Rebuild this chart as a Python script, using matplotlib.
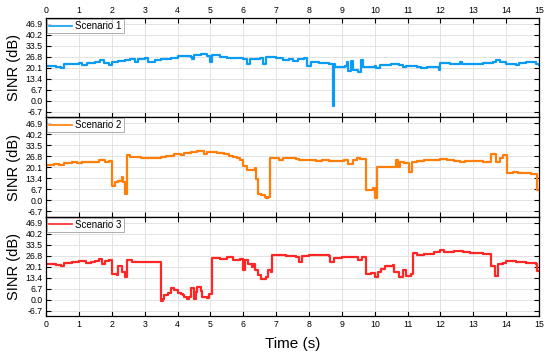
import numpy as np
import matplotlib
matplotlib.use('Agg')
import matplotlib.pyplot as plt

plt.rcParams['font.family'] = ['Liberation Sans', 'DejaVu Sans']

# ---------------------------------- data ----------------------------------
t1 = [0.0, 0.3, 0.45, 0.55, 0.8, 1.0, 1.1, 1.25, 1.5, 1.65, 1.75, 1.9, 2.0, 2.2, 2.4, 2.55, 2.7, 2.8,
      3.0, 3.1, 3.3, 3.5, 3.8, 4.0, 4.4, 4.45, 4.5, 4.7, 4.9, 5.0, 5.05, 5.3, 5.5, 5.8, 6.0, 6.1, 6.2,
      6.5, 6.6, 6.7, 7.0, 7.2, 7.4, 7.5, 7.65, 7.85, 7.95, 8.05, 8.3, 8.6, 8.72, 8.75, 8.8, 9.1, 9.15,
      9.2, 9.27, 9.35, 9.5, 9.58, 9.65, 10.0, 10.05, 10.15, 10.5, 10.75, 10.85, 10.95, 11.3, 11.4,
      11.6, 11.95, 12.0, 12.3, 12.6, 12.65, 13.0, 13.3, 13.6, 13.7, 13.8, 14.0, 14.3, 14.4, 14.6,
      14.9, 15.0]
v1 = [21.3, 21.0, 20.3, 22.3, 22.7, 23.0, 22.2, 23.3, 23.8, 24.8, 23.2, 22.2, 23.8, 24.4, 25.0, 25.6, 24.0, 25.8,
      26.0, 24.0, 25.0, 25.8, 26.4, 27.4, 27.0, 25.4, 28.0, 28.4, 27.6, 23.8, 28.0, 27.0, 26.4, 26.0, 25.8, 22.8, 25.6,
      26.0, 22.6, 26.6, 26.0, 25.2, 25.6, 24.6, 25.6, 26.4, 21.6, 23.6, 23.2, 22.8, -2.8, 22.6, 20.8, 21.4, 23.6,
      18.0, 24.4, 18.6, 17.4, 24.8, 20.4, 21.4, 20.0, 22.0, 22.4, 22.0, 20.8, 21.4, 20.6, 20.2,
      20.8, 19.0, 23.0, 22.6, 23.6, 22.4, 22.8, 23.4, 24.0, 24.8, 23.6, 22.6, 22.2, 23.0, 23.6,
      22.8, 22.0]

t2 = [0.0, 0.25, 0.4, 0.55, 0.8, 0.95, 1.1, 1.4, 1.6, 1.8, 1.9, 2.0, 2.1, 2.2, 2.3, 2.35, 2.4, 2.45,
      2.55, 2.9, 3.2, 3.5, 3.65, 3.9, 4.1, 4.2, 4.4, 4.6, 4.8, 4.9, 5.2, 5.4, 5.55, 5.7, 5.8, 5.9, 6.0,
      6.1, 6.3, 6.35, 6.4, 6.45, 6.55, 6.65, 6.7, 6.75, 6.8, 7.1, 7.2, 7.6, 7.7, 8.0, 8.2, 8.4, 8.6,
      8.9, 9.05, 9.2, 9.35, 9.45, 9.55, 9.72, 9.85, 9.95, 10.0, 10.08, 10.3, 10.6, 10.65, 10.72, 10.78,
      10.9, 11.05, 11.12, 11.3, 11.5, 11.7, 12.0, 12.2, 12.4, 12.6, 12.75, 13.0, 13.3, 13.5, 13.55,
      13.68, 13.8, 13.9, 14.02, 14.2, 14.35, 14.6, 14.75, 14.95, 15.0]
v2 = [21.8, 22.4, 21.6, 23.0, 23.6, 22.6, 23.2, 23.6, 24.6, 23.4, 24.2, 8.6, 11.0, 11.6, 14.0, 11.2, 4.0, 27.6,
      26.4, 26.0, 25.6, 26.2, 27.0, 28.2, 27.4, 28.6, 29.2, 29.8, 28.2, 29.2, 28.6, 28.0, 27.2, 26.4, 25.6, 24.4, 21.2,
      18.2, 18.2, 19.6, 13.0, 4.0, 3.0, 2.2, 1.4, 2.2, 25.6, 24.8, 25.6, 25.2, 24.6, 24.8, 24.0, 24.6, 24.2,
      24.0, 24.8, 22.0, 24.6, 25.6, 25.0, 6.4, 6.0, 7.4, 1.4, 20.2, 20.6, 20.2, 24.4, 20.0, 23.6,
      23.0, 17.2, 23.6, 24.0, 24.4, 24.8, 25.0, 24.4, 24.0, 23.2, 24.0, 23.8, 23.6, 23.2, 28.2,
      23.6, 26.0, 27.8, 16.4, 17.0, 16.4, 16.8, 16.2, 6.4, 6.4]

t3 = [0.0, 0.3, 0.45, 0.55, 0.8, 1.0, 1.2, 1.35, 1.5, 1.6, 1.7, 1.8, 1.9, 2.0, 2.15, 2.2, 2.3, 2.4,
      2.45, 2.6, 3.0, 3.2, 3.4, 3.48, 3.55, 3.6, 3.7, 3.8, 3.9, 4.0, 4.1, 4.15, 4.2, 4.3, 4.35, 4.4,
      4.5, 4.55, 4.6, 4.7, 4.75, 4.9, 4.95, 5.05, 5.3, 5.5, 5.7, 5.9, 6.0, 6.05, 6.15, 6.25, 6.3, 6.35,
      6.45, 6.55, 6.7, 6.75, 6.85, 6.88, 7.3, 7.6, 7.7, 7.8, 8.0, 8.4, 8.6, 8.65, 8.75, 9.0, 9.2, 9.5,
      9.6, 9.72, 9.9, 10.0, 10.1, 10.2, 10.3, 10.55, 10.6, 10.75, 10.85, 10.95, 11.1, 11.15, 11.3,
      11.5, 11.8, 12.0, 12.1, 12.4, 12.7, 12.9, 13.3, 13.55, 13.65, 13.75, 13.9, 14.0, 14.3, 14.6,
      14.9, 14.95, 15.0]
v3 = [21.8, 21.2, 20.4, 22.4, 22.8, 23.4, 22.6, 23.2, 23.8, 24.8, 21.8, 23.8, 24.4, 15.6, 14.8, 20.8, 16.6, 14.0,
      24.2, 23.2, 22.8, 23.2, 22.8, -0.8, 0.6, 2.6, 4.0, 7.0, 6.0, 4.2, 3.6, 2.6, 1.6, 0.6, 1.6, 7.4,
      0.6, 4.6, 8.0, 5.4, 1.6, 0.8, 3.2, 25.4, 24.8, 25.8, 24.4, 24.8, 18.0, 24.0, 22.0, 20.0, 22.0, 17.8,
      14.8, 12.8, 13.8, 18.2, 16.8, 27.4, 26.8, 25.8, 23.2, 26.8, 27.2, 27.4, 26.8, 22.8, 25.4, 26.2, 25.8, 24.2,
      25.8, 15.6, 16.2, 14.0, 16.6, 18.6, 20.6, 21.2, 16.6, 14.0, 18.0, 14.6, 15.6, 28.2, 27.4,
      27.8, 28.8, 30.2, 29.2, 29.4, 28.8, 28.2, 27.8, 20.8, 14.6, 21.6, 22.6, 23.6, 23.2, 22.6,
      21.6, 17.6, 17.6]

labels = ['Scenario 1', 'Scenario 2', 'Scenario 3']
colors = ['#0a9cf5', '#ff7f0a', '#ff2626']
yticks = [-6.7, 0.0, 6.7, 13.4, 20.1, 26.8, 33.5, 40.2, 46.9]
xticks = list(range(0, 16))

# ---------------------------------- plot ----------------------------------
fig, axes = plt.subplots(3, 1, figsize=(5.5, 3.54), dpi=100, sharex=True)
fig.subplots_adjust(left=0.084, right=0.98, top=0.949, bottom=0.107, hspace=0)

series = [(t1, v1), (t2, v2), (t3, v3)]
for i, ax in enumerate(axes):
    t, v = series[i]
    ax.step(t, v, where='post', color=colors[i], lw=1.6, label=labels[i])
    ax.set_xlim(0, 15)
    ax.set_ylim(-10, 50.5)
    ax.set_xticks(xticks)
    ax.set_yticks(yticks)
    ax.set_yticklabels(['%.1f' % y for y in yticks])
    ax.grid(True, color='#e3e3e3', lw=0.7)
    ax.set_axisbelow(True)
    ax.tick_params(direction='in', length=3.5, width=0.8, labelsize=6.3,
                   top=True, right=True, pad=2.5)
    ax.tick_params(axis='x', labeltop=(i == 0), labelbottom=(i == 2))
    ax.set_ylabel('SINR (dB)', fontsize=10.5, labelpad=3)
    for s in ax.spines.values():
        s.set_linewidth(0.9)
    leg = ax.legend(loc='upper left', fontsize=7, frameon=True, fancybox=False,
                    handlelength=2.4, borderpad=0.2, borderaxespad=0.1,
                    handletextpad=0.3)
    leg.get_frame().set_edgecolor('#999999')
    leg.get_frame().set_linewidth(0.7)
    leg.get_lines()[0].set_linewidth(1.2)

axes[2].set_xlabel('Time (s)', fontsize=11, labelpad=6)

fig.savefig('out.png', dpi=100)
